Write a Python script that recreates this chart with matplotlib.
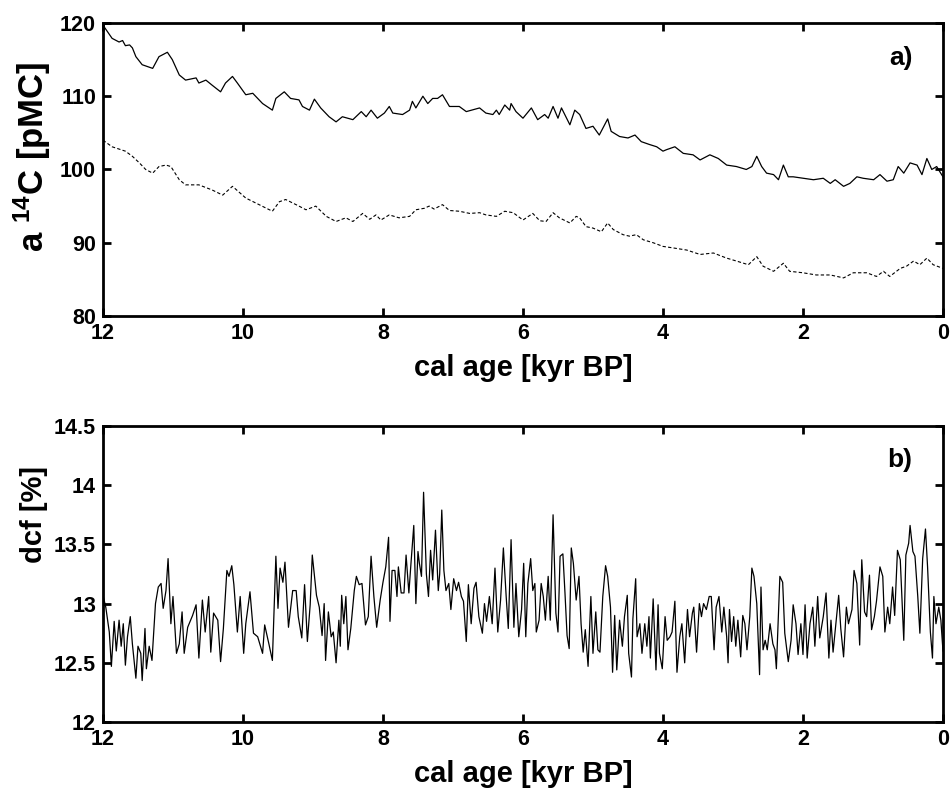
import matplotlib
matplotlib.use("Agg")
import matplotlib.pyplot as plt

plt.rcParams['font.family'] = ['Liberation Sans', 'DejaVu Sans']
plt.rcParams['font.weight'] = 'bold'
plt.rcParams['mathtext.fontset'] = 'custom'
plt.rcParams['mathtext.bf'] = 'Liberation Sans:bold'
plt.rcParams['mathtext.rm'] = 'Liberation Sans:bold'
plt.rcParams['mathtext.default'] = 'bf'

# panel a: a14C, solid line (pMC)
age_solid = [12.00, 11.87, 11.77, 11.72, 11.68, 11.62, 11.58, 11.53, 11.44, 11.29,
             11.20, 11.08, 11.01, 10.91, 10.82, 10.67, 10.63, 10.53, 10.44, 10.32,
             10.25, 10.15, 10.08, 9.96, 9.86, 9.72, 9.58, 9.53, 9.41, 9.32,
             9.20, 9.15, 9.05, 8.98, 8.89, 8.77, 8.67, 8.58, 8.43, 8.31,
             8.24, 8.17, 8.08, 7.98, 7.91, 7.86, 7.72, 7.62, 7.58, 7.53,
             7.43, 7.36, 7.29, 7.22, 7.15, 7.05, 6.91, 6.81, 6.62, 6.53,
             6.43, 6.38, 6.34, 6.26, 6.19, 6.17, 6.10, 6.00, 5.88, 5.79,
             5.69, 5.64, 5.57, 5.50, 5.45, 5.33, 5.26, 5.19, 5.10, 5.00,
             4.91, 4.79, 4.74, 4.62, 4.50, 4.40, 4.31, 4.19, 4.09, 4.00,
             3.95, 3.83, 3.71, 3.57, 3.47, 3.33, 3.21, 3.09, 2.95, 2.81,
             2.73, 2.66, 2.59, 2.52, 2.42, 2.35, 2.28, 2.21, 2.14, 2.00,
             1.85, 1.71, 1.61, 1.54, 1.42, 1.33, 1.23, 1.14, 0.99, 0.90,
             0.80, 0.71, 0.64, 0.56, 0.47, 0.37, 0.30, 0.23, 0.16, 0.09, 0.00]
c14_solid = [119.7, 117.9, 117.4, 117.6, 116.9, 117.0, 116.6, 115.4, 114.3, 113.8,
             115.4, 116.0, 115.0, 112.9, 112.2, 112.5, 111.8, 112.2, 111.5, 110.6,
             111.8, 112.7, 111.8, 110.2, 110.4, 109.0, 108.1, 109.7, 110.6, 109.7,
             109.5, 108.6, 108.1, 109.6, 108.4, 107.2, 106.5, 107.2, 106.8, 107.9,
             107.2, 108.1, 107.0, 107.7, 108.6, 107.7, 107.5, 108.1, 109.3, 108.4,
             110.0, 109.0, 109.7, 109.7, 110.2, 108.6, 108.6, 107.9, 108.4, 107.7,
             107.5, 108.1, 107.5, 108.8, 108.1, 109.0, 107.9, 107.0, 108.4, 106.8,
             107.5, 107.0, 108.6, 107.0, 108.4, 106.1, 108.1, 107.5, 105.6, 105.9,
             104.7, 106.9, 105.2, 104.5, 104.3, 104.7, 103.8, 103.4, 103.1, 102.5,
             102.7, 103.1, 102.2, 102.0, 101.3, 102.0, 101.5, 100.6, 100.4, 100.0,
             100.4, 101.8, 100.4, 99.5, 99.3, 98.6, 100.6, 99.0, 99.0, 98.8,
             98.6, 98.8, 98.1, 98.6, 97.7, 98.1, 99.0, 98.8, 98.6, 99.3,
             98.4, 98.6, 100.4, 99.5, 100.9, 100.6, 99.3, 101.5, 100.0, 100.4, 99.0]

# panel a: dashed line (pMC)
age_dash = [12.00, 11.87, 11.68, 11.58, 11.48, 11.39, 11.29, 11.20, 11.10, 11.03,
            10.91, 10.82, 10.63, 10.44, 10.29, 10.15, 9.96, 9.77, 9.58, 9.48,
            9.39, 9.20, 9.10, 8.96, 8.81, 8.67, 8.53, 8.43, 8.29, 8.19,
            8.10, 8.03, 7.91, 7.77, 7.62, 7.53, 7.41, 7.34, 7.27, 7.15,
            7.05, 6.91, 6.76, 6.62, 6.53, 6.38, 6.26, 6.14, 6.00, 5.86,
            5.76, 5.67, 5.57, 5.48, 5.33, 5.24, 5.19, 5.10, 5.00, 4.88,
            4.79, 4.71, 4.57, 4.48, 4.38, 4.28, 4.14, 4.00, 3.86, 3.66,
            3.47, 3.28, 3.09, 2.95, 2.78, 2.66, 2.57, 2.42, 2.28, 2.19,
            2.00, 1.81, 1.61, 1.42, 1.28, 1.09, 0.95, 0.85, 0.76, 0.61,
            0.52, 0.42, 0.33, 0.23, 0.14, 0.00]
c14_dash = [104.0, 103.1, 102.5, 101.8, 100.9, 100.0, 99.5, 100.4, 100.6, 100.4,
            98.6, 97.9, 97.9, 97.2, 96.5, 97.7, 96.1, 95.2, 94.3, 95.6,
            95.9, 95.0, 94.5, 95.0, 93.6, 92.9, 93.4, 92.9, 94.0, 93.2,
            93.8, 93.1, 93.8, 93.4, 93.6, 94.5, 94.7, 95.0, 94.6, 95.2,
            94.4, 94.3, 94.0, 94.1, 93.8, 93.6, 94.3, 94.1, 93.1, 94.0,
            93.0, 92.9, 94.1, 93.4, 92.7, 93.6, 93.4, 92.2, 92.0, 91.5,
            92.7, 91.8, 91.1, 90.9, 91.1, 90.4, 90.0, 89.5, 89.3, 89.0,
            88.4, 88.6, 87.9, 87.5, 87.0, 88.1, 86.8, 86.1, 87.2, 86.1,
            85.9, 85.6, 85.6, 85.2, 85.9, 85.9, 85.4, 86.1, 85.4, 86.5,
            86.8, 87.5, 87.0, 87.9, 87.0, 86.5]

# panel b: dcf (%)
age_dcf = [12.00, 11.96, 11.91, 11.88, 11.84, 11.81, 11.77, 11.74, 11.71, 11.68,
           11.65, 11.61, 11.58, 11.53, 11.50, 11.46, 11.44, 11.40, 11.38, 11.34,
           11.30, 11.25, 11.21, 11.17, 11.14, 11.10, 11.07, 11.03, 11.00, 10.95,
           10.91, 10.87, 10.84, 10.79, 10.72, 10.67, 10.63, 10.58, 10.54, 10.49,
           10.46, 10.42, 10.36, 10.32, 10.28, 10.23, 10.20, 10.16, 10.13, 10.08,
           10.04, 9.99, 9.96, 9.90, 9.85, 9.79, 9.72, 9.69, 9.63, 9.58,
           9.53, 9.50, 9.47, 9.43, 9.40, 9.35, 9.29, 9.24, 9.21, 9.16,
           9.12, 9.08, 9.04, 9.01, 8.95, 8.91, 8.87, 8.84, 8.82, 8.78,
           8.74, 8.71, 8.67, 8.63, 8.61, 8.59, 8.56, 8.53, 8.50, 8.46,
           8.41, 8.38, 8.34, 8.30, 8.25, 8.21, 8.17, 8.13, 8.09, 8.04,
           8.00, 7.96, 7.92, 7.90, 7.87, 7.83, 7.80, 7.78, 7.74, 7.70,
           7.67, 7.63, 7.60, 7.56, 7.53, 7.50, 7.48, 7.45, 7.42, 7.38,
           7.35, 7.32, 7.29, 7.25, 7.21, 7.19, 7.16, 7.13, 7.10, 7.06,
           7.03, 6.99, 6.95, 6.92, 6.88, 6.85, 6.81, 6.78, 6.74, 6.70,
           6.67, 6.63, 6.58, 6.55, 6.52, 6.48, 6.44, 6.40, 6.36, 6.32,
           6.28, 6.24, 6.21, 6.17, 6.13, 6.10, 6.06, 6.02, 5.99, 5.96,
           5.93, 5.89, 5.86, 5.83, 5.81, 5.77, 5.74, 5.71, 5.68, 5.64,
           5.61, 5.57, 5.53, 5.50, 5.47, 5.43, 5.40, 5.37, 5.34, 5.31,
           5.28, 5.24, 5.20, 5.17, 5.14, 5.11, 5.07, 5.03, 5.00, 4.96,
           4.93, 4.90, 4.86, 4.82, 4.79, 4.75, 4.72, 4.69, 4.66, 4.62,
           4.58, 4.55, 4.51, 4.49, 4.45, 4.43, 4.39, 4.37, 4.33, 4.30,
           4.26, 4.23, 4.20, 4.18, 4.14, 4.10, 4.07, 4.05, 4.01, 3.97,
           3.94, 3.90, 3.87, 3.83, 3.80, 3.76, 3.73, 3.69, 3.65, 3.62,
           3.58, 3.56, 3.52, 3.48, 3.45, 3.42, 3.38, 3.34, 3.31, 3.27,
           3.24, 3.20, 3.16, 3.13, 3.09, 3.07, 3.05, 3.02, 2.99, 2.96,
           2.93, 2.89, 2.86, 2.83, 2.80, 2.76, 2.73, 2.70, 2.66, 2.62,
           2.60, 2.57, 2.54, 2.51, 2.47, 2.43, 2.40, 2.38, 2.33, 2.29,
           2.26, 2.21, 2.17, 2.14, 2.10, 2.07, 2.03, 2.00, 1.97, 1.94,
           1.90, 1.86, 1.83, 1.79, 1.76, 1.71, 1.67, 1.63, 1.60, 1.57,
           1.53, 1.49, 1.46, 1.42, 1.38, 1.35, 1.30, 1.27, 1.23, 1.19,
           1.16, 1.12, 1.09, 1.05, 1.02, 0.98, 0.95, 0.90, 0.86, 0.83,
           0.79, 0.76, 0.72, 0.69, 0.65, 0.61, 0.56, 0.53, 0.49, 0.47,
           0.43, 0.40, 0.36, 0.33, 0.29, 0.25, 0.22, 0.18, 0.15, 0.13,
           0.10, 0.06, 0.03, 0.00]
dcf = [13.07, 12.97, 12.76, 12.47, 12.85, 12.60, 12.86, 12.64, 12.83, 12.48,
       12.72, 12.89, 12.66, 12.37, 12.64, 12.58, 12.35, 12.79, 12.45, 12.64,
       12.52, 13.00, 13.14, 13.17, 12.96, 13.11, 13.38, 12.83, 13.06, 12.58,
       12.66, 12.93, 12.58, 12.80, 12.90, 12.99, 12.54, 13.03, 12.76, 13.06,
       12.59, 12.92, 12.86, 12.51, 12.79, 13.28, 13.23, 13.32, 13.16, 12.76,
       13.06, 12.58, 12.83, 13.10, 12.75, 12.72, 12.58, 12.82, 12.66, 12.52,
       13.40, 12.96, 13.30, 13.18, 13.35, 12.80, 13.11, 13.11, 12.89, 12.71,
       13.16, 12.68, 12.99, 13.41, 13.07, 12.97, 12.73, 13.00, 12.52, 12.93,
       12.72, 12.76, 12.50, 12.86, 12.64, 13.07, 12.83, 13.06, 12.61, 12.79,
       13.11, 13.23, 13.16, 13.17, 12.82, 12.89, 13.40, 13.06, 12.80, 13.03,
       13.18, 13.31, 13.56, 12.85, 13.28, 13.28, 13.06, 13.31, 13.09, 13.09,
       13.41, 13.09, 13.34, 13.66, 13.00, 13.44, 13.34, 13.23, 13.94, 13.25,
       13.06, 13.45, 13.20, 13.62, 13.11, 13.25, 13.79, 13.28, 13.11, 13.17,
       12.95, 13.21, 13.11, 13.18, 13.06, 13.02, 12.68, 13.16, 12.83, 13.13,
       13.18, 12.89, 12.75, 13.00, 12.85, 13.06, 12.83, 13.30, 12.76, 13.03,
       13.47, 13.06, 12.79, 13.54, 12.80, 13.17, 12.72, 12.95, 13.34, 12.72,
       13.17, 13.38, 13.11, 13.17, 12.76, 12.86, 13.17, 13.06, 12.86, 13.23,
       12.86, 13.75, 12.92, 12.76, 13.40, 13.42, 13.09, 12.73, 12.62, 13.47,
       13.34, 13.03, 13.23, 12.83, 12.59, 12.78, 12.47, 13.06, 12.58, 12.93,
       12.61, 12.59, 13.06, 13.32, 13.23, 12.97, 12.42, 12.90, 12.44, 12.86,
       12.64, 12.89, 13.07, 12.58, 12.38, 12.87, 13.21, 12.72, 12.83, 12.58,
       12.83, 12.64, 12.89, 12.54, 13.04, 12.44, 12.99, 12.58, 12.45, 12.89,
       12.69, 12.72, 12.76, 13.02, 12.42, 12.72, 12.83, 12.50, 12.95, 12.72,
       12.92, 12.97, 12.59, 13.00, 12.89, 13.00, 12.95, 13.06, 13.06, 12.61,
       12.97, 13.06, 12.76, 12.97, 12.72, 12.50, 12.95, 12.68, 12.89, 12.64,
       12.86, 12.55, 12.90, 12.83, 12.61, 12.89, 13.30, 13.23, 13.00, 12.40,
       13.14, 12.61, 12.69, 12.61, 12.83, 12.66, 12.61, 12.45, 13.23, 13.18,
       12.75, 12.51, 12.69, 12.99, 12.83, 12.57, 12.83, 12.57, 12.99, 12.54,
       12.83, 12.97, 12.64, 13.06, 12.71, 12.89, 13.09, 12.54, 12.86, 12.59,
       12.83, 13.07, 12.79, 12.55, 12.97, 12.83, 12.95, 13.28, 13.17, 12.65,
       13.37, 12.93, 12.89, 13.24, 12.78, 12.89, 13.02, 13.31, 13.23, 12.76,
       12.97, 12.83, 13.14, 12.90, 13.45, 13.37, 12.69, 13.41, 13.51, 13.66,
       13.44, 13.40, 13.06, 12.75, 13.38, 13.63, 13.31, 12.76, 12.54, 13.06,
       12.83, 12.97, 12.86, 12.60]

xticks = [12, 10, 8, 6, 4, 2, 0]
yticks_a = [80, 90, 100, 110, 120]
yticks_b = [12, 12.5, 13, 13.5, 14, 14.5]
yticklabels_b = ['12', '12.5', '13', '13.5', '14', '14.5']

fig = plt.figure(figsize=(9.5, 7.89), dpi=100)
ax1 = fig.add_axes([0.1084, 0.5995, 0.8842, 0.3714])
ax2 = fig.add_axes([0.1084, 0.0849, 0.8842, 0.3752])

ax1.plot(age_solid, c14_solid, color='black', lw=0.9)
ax1.plot(age_dash, c14_dash, color='black', lw=0.8, linestyle=(0, (3, 2)))
ax1.set_ylim(80, 120)
ax1.set_yticks(yticks_a)
ax1.set_ylabel(r'a $^{14}$C [pMC]', fontsize=25, fontweight='bold')
ax1.yaxis.set_label_coords(-0.06, 0.545)
ax1.text(0.964, 0.88, 'a)', transform=ax1.transAxes, fontsize=19,
         fontweight='bold', ha='right', va='center')

ax2.plot(age_dcf, dcf, color='black', lw=0.9)
ax2.set_ylim(12, 14.5)
ax2.set_yticks(yticks_b)
ax2.set_yticklabels(yticklabels_b)
ax2.set_ylabel('dcf [%]', fontsize=21, fontweight='bold')
ax2.yaxis.set_label_coords(-0.066, 0.70)
ax2.text(0.964, 0.885, 'b)', transform=ax2.transAxes, fontsize=19,
         fontweight='bold', ha='right', va='center')

for ax in (ax1, ax2):
    ax.set_xlim(12, 0)
    ax.set_xticks(xticks)
    ax.set_xlabel('cal age [kyr BP]', fontsize=21, fontweight='bold', labelpad=7)
    ax.tick_params(direction='in', length=6, width=2, labelsize=15.5,
                   top=True, right=True, pad=5)
    for s in ax.spines.values():
        s.set_linewidth(2)
    for lab in ax.get_xticklabels() + ax.get_yticklabels():
        lab.set_fontweight('bold')

fig.savefig('out.png', dpi=100)
